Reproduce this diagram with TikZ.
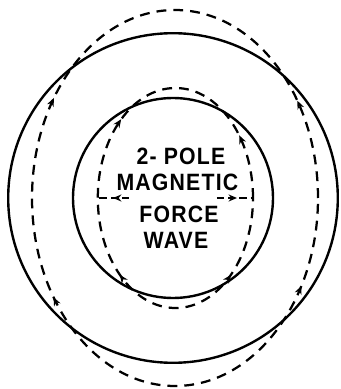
\documentclass[tikz,border=0pt]{standalone}
\usepackage{fontspec}
\setmainfont{Liberation Sans}
\newfontfamily\letterfont[FakeStretch=0.9,LetterSpace=5]{Liberation Sans}
\usetikzlibrary{arrows.meta}

\tikzset{
  solidring/.style={line width=1.7pt},
  dashring/.style={line width=1.6pt,dash pattern=on 7pt off 5pt},
  ringtip/.style={line width=1pt,-{Stealth[length=6pt,width=5pt]}},
  label/.style={font=\letterfont\fontsize{16.8}{16.8}\selectfont\bfseries,
    inner sep=0pt,text height=12pt,text depth=0pt}
}

\begin{document}
\begin{tikzpicture}[scale=1]

\useasboundingbox
(-4.325,-4.775)
rectangle
(4.2,4.95);

\coordinate
(centre)
at (0,0);

% solid rings
\draw[solidring]
(centre)
circle (4.12);

\draw[solidring]
(centre)
circle (2.5);

% dashed rings
\draw[dashring]
(0.05,0)
ellipse [x radius=3.575,y radius=4.7];

\draw[dashring]
(0.06,0)
ellipse [x radius=1.94,y radius=2.75];

% arrow tips where the rings cross, all pointing up
\foreach \t/\s in {30/1,149/-1,213/-1,331/1}
  \draw[ringtip]
  ({0.05+3.575*cos(\t)},{4.7*sin(\t)})
  --
  ++({-3.575*sin(\t)*0.02*\s},{4.7*cos(\t)*0.02*\s});

\foreach \t/\s in {33/1,136/-1,226/-1,314/1}
  \draw[ringtip]
  ({0.06+1.94*cos(\t)},{2.75*sin(\t)})
  --
  ++({-1.94*sin(\t)*0.03*\s},{2.75*cos(\t)*0.03*\s});

% text
\node[label]
(pole)
at (0.2,1.06)
{2- POLE};

\node[label]
(magnetic)
at (0.11,0.39)
{MAGNETIC};

\node[label]
(force)
at (0.15,-0.39)
{FORCE};

\node[label]
(wave)
at (0.075,-1.06)
{WAVE};

% spread arrows
\coordinate
(leftend)
at (-1.875,0);

\coordinate
(leftstart)
at (-1.1,0);

\coordinate
(rightstart)
at (1.1,0);

\coordinate
(rightend)
at (1.975,0);

\draw[line width=1pt,dash pattern=on 5pt off 3pt]
(leftstart)
--
(leftend);

\draw[ringtip]
(-1.35,0)
--
(-1.5,0);

\draw[line width=1pt,dash pattern=on 5pt off 3pt]
(rightstart)
--
(rightend);

\draw[ringtip]
(1.45,0)
--
(1.6,0);

\end{tikzpicture}
\end{document}
